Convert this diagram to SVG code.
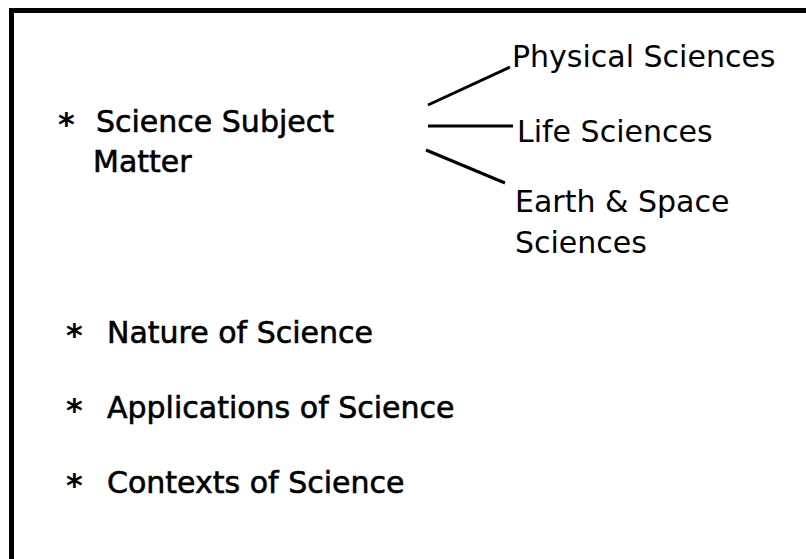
<svg xmlns="http://www.w3.org/2000/svg" width="806" height="559" viewBox="0 0 806 559">
  <style>
    .t { font-family: "DejaVu Sans", "Liberation Sans", sans-serif; font-size: 30px; fill: #000; }
    .main { stroke: #000; stroke-width: 0.6; }
    .star { font-family: "DejaVu Sans", "Liberation Sans", sans-serif; font-size: 32px; font-weight: bold; fill: #000; }
    .frame { fill: none; stroke: #000; stroke-width: 5; }
    .link { stroke: #000; stroke-width: 3; stroke-linecap: butt; fill: none; }
  </style>
  <rect width="806" height="559" fill="#fff"/>
  <!-- open frame: left and top edges only -->
  <path class="frame" d="M11.5 565 V10.5 H812"/>

  <g id="subject-matter">
    <text class="star" x="58" y="135">*</text>
    <text class="t main" x="96" y="132">Science Subject</text>
    <text class="t main" x="93" y="172">Matter</text>
  </g>

  <g id="physical-sciences">
    <text class="t" x="512" y="67">Physical Sciences</text>
  </g>
  <g id="life-sciences">
    <text class="t" x="517" y="142">Life Sciences</text>
  </g>
  <g id="earth-space-sciences">
    <text class="t" x="515" y="212">Earth &amp; Space</text>
    <text class="t" x="515" y="253">Sciences</text>
  </g>

  <g id="connectors">
    <line class="link" x1="428" y1="105" x2="510" y2="67"/>
    <line class="link" x1="428" y1="126" x2="513" y2="126"/>
    <line class="link" x1="426" y1="150" x2="505" y2="183"/>
  </g>

  <g id="nature-of-science">
    <text class="star" x="66" y="346">*</text>
    <text class="t main" x="107" y="343">Nature of Science</text>
  </g>
  <g id="applications-of-science">
    <text class="star" x="66" y="421">*</text>
    <text class="t main" x="107" y="418">Applications of Science</text>
  </g>
  <g id="contexts-of-science">
    <text class="star" x="66" y="496">*</text>
    <text class="t main" x="107" y="493">Contexts of Science</text>
  </g>
</svg>
